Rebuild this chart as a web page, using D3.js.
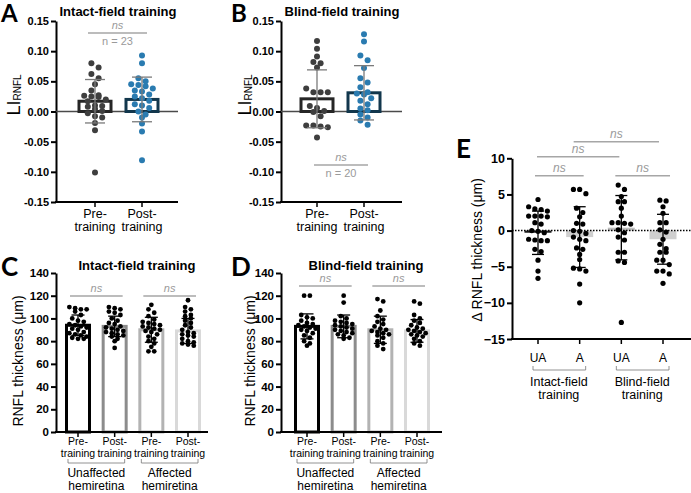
<!DOCTYPE html>
<html>
<head>
<meta charset="utf-8">
<script src="https://cdn.jsdelivr.net/npm/d3@7"></script>
<style>
  body { margin: 0; background: #fff; }
  svg { font-family: "Liberation Sans", Arial, sans-serif; }
</style>
</head>
<body>
<svg id="fig" width="691" height="493"></svg>
<script>
// ---------- data ----------
// A / B : laterality index LI_RNFL
const liGroups = ["Pre-training", "Post-training"];
const liTicks = [-0.15, -0.10, -0.05, 0, 0.05, 0.10, 0.15];
const intactLIPre  = [0.080, 0.073, 0.062, 0.055, 0.045, 0.035, 0.027, 0.026, 0.025, 0.024, 0.020, 0.017,
                      0.010, 0.009, 0.008, 0.004, 0.001, -0.003, -0.008, -0.010, -0.019, -0.031, -0.101];
const intactLIPost = [0.093, 0.080, 0.055, 0.050, 0.045, 0.044, 0.042, 0.038, 0.035, 0.033, 0.028, 0.025,
                      0.022, 0.018, 0.012, 0.010, 0.006, 0.000, -0.005, -0.010, -0.020, -0.033, -0.081];
const intactLIMean = [0.017, 0.020];
const intactLISD   = [0.036, 0.037];
const blindLIPre   = [0.117, 0.104, 0.091, 0.082, 0.080, 0.073, 0.038, 0.032, 0.032, 0.032, 0.009, 0.006,
                      0.001, -0.001, -0.008, -0.023, -0.023, -0.025, -0.026, -0.043];
const blindLIPost  = [0.128, 0.116, 0.093, 0.085, 0.072, 0.055, 0.048, 0.040, 0.032, 0.030, 0.028, 0.022,
                      0.018, 0.012, 0.005, 0.002, -0.005, -0.010, -0.015, -0.022];
const blindLIMean  = [0.021, 0.031];
const blindLISD    = [0.048, 0.045];

// C / D : RNFL thickness (µm)
const thickTicks = [0, 20, 40, 60, 80, 100, 120, 140];
const thickCatTop = ["Pre-", "Post-", "Pre-", "Post-"];
const thickCatBottom = ["training", "training", "training", "training"];
const hemiGroups = [["Unaffected", "hemiretina"], ["Affected", "hemiretina"]];
const intactThick = [
  [110, 109, 108, 108, 106, 103, 100, 98, 97, 95, 94, 93, 92, 91, 90, 88, 87, 86, 85, 84, 83, 82, 82],
  [110, 109, 108, 106, 105, 103, 100, 98, 96, 95, 93, 92, 91, 90, 89, 88, 87, 86, 85, 84, 82, 80, 74],
  [112, 108, 105, 102, 99, 97, 96, 95, 94, 93, 92, 91, 90, 89, 88, 86, 84, 82, 80, 78, 75, 71, 71],
  [116, 110, 108, 106, 103, 102, 100, 98, 96, 94, 92, 90, 88, 87, 86, 85, 84, 82, 80, 79, 78, 77, 76]
];
const intactThickMean = [94, 93, 90, 89];
const intactThickSD   = [9, 9, 11, 11];
const blindThick = [
  [120, 120, 103, 101, 100, 98, 96, 95, 94, 93, 92, 91, 90, 89, 87, 85, 83, 80, 78, 76],
  [120, 114, 102, 100, 98, 97, 96, 95, 94, 93, 92, 91, 90, 89, 88, 87, 86, 85, 83, 82],
  [117, 115, 107, 102, 99, 97, 95, 93, 91, 90, 89, 88, 87, 86, 85, 83, 80, 78, 76, 73],
  [115, 113, 103, 100, 98, 96, 94, 92, 91, 90, 89, 88, 87, 86, 85, 84, 82, 80, 78, 76]
];
const blindThickMean = [93, 93, 90, 89];
const blindThickSD   = [11, 10, 12, 10];

// E : change in RNFL thickness (µm)
const deltaTicks = [-15, -10, -5, 0, 5, 10];
const deltaCats = ["UA", "A", "UA", "A"];
const trainGroups = [["Intact-field", "training"], ["Blind-field", "training"]];
const deltaVals = [
  [4.3, 3.3, 3.0, 2.9, 2.7, 2.0, 2.0, 2.0, 1.9, 1.1, 0.9, 0.0, -0.1, -0.3, -1.2, -1.3, -1.4, -1.4, -2.6, -2.9, -4.1, -5.6, -6.6],
  [5.7, 5.7, 5.1, 3.1, 2.5, 1.9, 1.0, 0.9, 0.0, -0.1, -0.4, -0.9, -1.2, -1.4, -2.4, -2.6, -3.3, -4.0, -5.2, -5.3, -5.6, -7.4, -10.0],
  [6.3, 5.7, 4.7, 4.0, 4.0, 3.1, 2.0, 1.1, 1.1, 1.0, 0.1, -0.9, -1.3, -3.0, -3.0, -4.2, -4.4, -12.7, 0.9, -0.3],
  [4.2, 4.1, 3.3, 2.4, 1.1, 1.1, 0.1, -0.2, -1.2, -1.9, -2.5, -3.0, -3.0, -4.1, -4.1, -4.7, -5.6, -5.6, -6.0, -7.3]
];
const deltaMean = [-0.3, -0.9, 0.4, -1.2];
const deltaSD   = [3.0, 4.2, 4.45, 3.45];

// ---------- helpers ----------
const svg = d3.select("#fig");
const LETTER_FONT = "Lato, 'Liberation Sans', sans-serif";

// GraphPad-like scatter: points that fall on the same row are spread sideways
function swarm(vals, y, cx, r) {
  const pts = vals.map(v => ({v: v, py: y(v)})).sort((a, b) => a.py - b.py);
  const rows = [];
  pts.forEach(p => {
    const last = rows[rows.length - 1];
    if (last && p.py - last[0].py < r * 1.7) last.push(p); else rows.push([p]);
  });
  rows.forEach(row => row.forEach((p, i) => { p.px = cx + (i - (row.length - 1) / 2) * r * 2.4; }));
  return pts;
}

function leftAxis(y, x0, ticks, fmt, size) {
  const g = svg.append("g").attr("transform", `translate(${x0},0)`)
    .call(d3.axisLeft(y).tickValues(ticks).tickFormat(fmt).tickSize(5).tickSizeOuter(0));
  g.select(".domain").attr("stroke", "#000").attr("stroke-width", 2);
  g.selectAll(".tick line").attr("stroke", "#000").attr("stroke-width", 2);
  g.selectAll(".tick text").attr("font-size", size).attr("font-weight", "bold")
    .attr("font-family", "'Liberation Sans', Arial, sans-serif").attr("fill", "#000").attr("x", -7);
  return g;
}

function bottomLine(yPix, x0, x1, centers) {
  svg.append("line").attr("x1", x0 - 1).attr("x2", x1).attr("y1", yPix).attr("y2", yPix)
    .attr("stroke", "#000").attr("stroke-width", 2);
  centers.forEach(c => svg.append("line").attr("x1", c).attr("x2", c).attr("y1", yPix).attr("y2", yPix + 5)
    .attr("stroke", "#000").attr("stroke-width", 1.5));
}

function errBar(cx, y, m, sd, cap, color) {
  const g = svg.append("g").attr("stroke", color).attr("stroke-width", 1.3);
  g.append("line").attr("x1", cx).attr("x2", cx).attr("y1", y(m - sd)).attr("y2", y(m + sd));
  [m - sd, m + sd].forEach(v => g.append("line").attr("x1", cx - cap / 2).attr("x2", cx + cap / 2)
    .attr("y1", y(v)).attr("y2", y(v)));
}

function label(x, y, txt, opt) {
  opt = opt || {};
  return svg.append("text").attr("x", x).attr("y", y).text(txt)
    .attr("text-anchor", opt.anchor || "middle")
    .attr("font-size", opt.size || 12)
    .attr("font-weight", opt.weight || "normal")
    .attr("font-style", opt.style || "normal")
    .attr("font-family", opt.family || "'Liberation Sans', Arial, sans-serif")
    .attr("fill", opt.fill || "#000");
}

function nsBracket(x1, x2, yPix, size) {
  svg.append("line").attr("x1", x1).attr("x2", x2).attr("y1", yPix).attr("y2", yPix)
    .attr("stroke", "#a6a6a6").attr("stroke-width", 1.5);
  label((x1 + x2) / 2, yPix - 4, "ns", {size: size || 12, style: "italic", fill: "#9a9a9a"});
}

function groupBracket(x1, x2, yPix) {
  svg.append("path").attr("d", `M${x1},${yPix - 4}V${yPix}H${x2}V${yPix - 4}`)
    .attr("fill", "none").attr("stroke", "#777").attr("stroke-width", 0.8);
}

function rotLabel(x, y, txt, size) {
  return svg.append("text").attr("transform", `translate(${x},${y}) rotate(-90)`)
    .attr("text-anchor", "middle").attr("dy", "0.35em").attr("font-size", size)
    .attr("font-family", "'Liberation Sans', Arial, sans-serif").text(txt);
}

// ---------- panels A, B ----------
function liPanel(o) {
  const y = d3.scaleLinear().domain([-0.15, 0.15]).range([202, 21]);
  const x = d3.scalePoint().domain(liGroups).range(o.xr);
  label(o.letterX, 22, o.letter, {size: 24, weight: "bold", anchor: "start", family: LETTER_FONT});
  label(o.titleX, 16, o.title, {size: 13, weight: "bold"});
  // ylabel LI_RNFL
  const t = svg.append("text").attr("transform", `translate(${o.ylabX},95) rotate(-90)`)
    .attr("text-anchor", "middle").attr("font-family", "'Liberation Sans', Arial, sans-serif");
  t.append("tspan").attr("font-size", 18).text("LI");
  t.append("tspan").attr("font-size", 10).attr("dy", 1).text("RNFL");

  leftAxis(y, o.x0, liTicks, d => d.toFixed(2), 11);
  bottomLine(202, o.x0, o.x1, x.domain().map(x));
  svg.append("line").attr("x1", o.x0).attr("x2", o.x1).attr("y1", y(0)).attr("y2", y(0))
    .attr("stroke", "#4a4a4a").attr("stroke-width", 1.5);

  const sets = [o.pre, o.post], dotCol = ["#3e3e3e", "#2a7bb0"], barCol = ["#262626", "#12374d"];
  liGroups.forEach((gname, i) => {
    const cx = x(gname), m = o.mean[i];
    svg.append("rect").attr("x", cx - 16).attr("width", 32)
      .attr("y", y(Math.max(m, 0))).attr("height", Math.abs(y(m) - y(0)))
      .attr("fill", "none").attr("stroke", barCol[i]).attr("stroke-width", 3);
    svg.append("g").selectAll("circle").data(swarm(sets[i], y, cx, 3)).join("circle")
      .attr("cx", d => d.px).attr("cy", d => d.py).attr("r", 3).attr("fill", dotCol[i]);
    errBar(cx, y, m, o.sd[i], 20, "#7a7a7a");
  });
  // category labels
  liGroups.forEach(gname => {
    label(x(gname), 218, gname.split("-")[0] + "-", {size: 12.5});
    label(x(gname), 231, "training", {size: 12.5});
  });
  nsBracket(o.ns[0], o.ns[1], o.nsY, 11);
  label((o.ns[0] + o.ns[1]) / 2, o.nsY + 12, o.nText, {size: 11, fill: "#9a9a9a"});
}

liPanel({letter: "A", letterX: 1, title: "Intact-field training", titleX: 118, ylabX: 20,
  x0: 56, x1: 178, xr: [95, 142], pre: intactLIPre, post: intactLIPost,
  mean: intactLIMean, sd: intactLISD, ns: [88, 147], nsY: 33, nText: "n = 23"});
liPanel({letter: "B", letterX: 231, title: "Blind-field training", titleX: 342, ylabX: 251,
  x0: 281, x1: 402, xr: [317, 364], pre: blindLIPre, post: blindLIPost,
  mean: blindLIMean, sd: blindLISD, ns: [314, 368], nsY: 165, nText: "n = 20"});

// ---------- panels C, D ----------
function thickPanel(o) {
  const y = d3.scaleLinear().domain([0, 140]).range([432, 273]);
  const x = d3.scalePoint().domain(d3.range(4)).range(o.xr);
  label(o.letterX, 276, o.letter, {size: 26, weight: "bold", anchor: "start", family: LETTER_FONT});
  label(o.titleX, 270, o.title, {size: 13, weight: "bold"});
  rotLabel(o.ylabX, 361, "RNFL thickness (\u03bcm)", 14);
  leftAxis(y, o.x0, thickTicks, d3.format("d"), 11.5);

  const barCol = ["#000", "#8c8c8c", "#b3b3b3", "#d9d9d9"];
  o.vals.forEach((vals, i) => {
    const cx = x(i), m = o.mean[i];
    svg.append("rect").attr("x", cx - 11.5).attr("width", 23).attr("y", y(m)).attr("height", y(0) - y(m))
      .attr("fill", "#fff").attr("stroke", barCol[i]).attr("stroke-width", 3);
  });
  bottomLine(432, o.x0, o.x1, x.domain().map(x));
  o.vals.forEach((vals, i) => {
    const cx = x(i);
    svg.append("g").selectAll("circle").data(swarm(vals, y, cx, 2.4)).join("circle")
      .attr("cx", d => d.px).attr("cy", d => d.py).attr("r", 2.4).attr("fill", "#000");
    errBar(cx, y, o.mean[i], o.sd[i], 13, "#000");
    label(cx, 445, thickCatTop[i], {size: 10.5});
    label(cx, 457, thickCatBottom[i], {size: 10.5});
  });
  hemiGroups.forEach((grp, j) => {
    const a = x(2 * j), b = x(2 * j + 1);
    groupBracket(a - 10, b + 10, 463);
    label((a + b) / 2, 477, grp[0], {size: 12});
    label((a + b) / 2, 490, grp[1], {size: 12});
    nsBracket(a - 8, b + 8, o.nsY, 11);
  });
}

thickPanel({letter: "C", letterX: 1, title: "Intact-field training", titleX: 137, ylabX: 18,
  x0: 56, x1: 208, xr: [78, 188], vals: intactThick, mean: intactThickMean, sd: intactThickSD, nsY: 296});
thickPanel({letter: "D", letterX: 231, title: "Blind-field training", titleX: 366, ylabX: 250,
  x0: 281, x1: 442, xr: [307, 417], vals: blindThick, mean: blindThickMean, sd: blindThickSD, nsY: 286});

// ---------- panel E ----------
(function () {
  const y = d3.scaleLinear().domain([-15, 10]).range([339, 158.3]);
  const x = d3.scalePoint().domain(d3.range(4)).range([538, 663]);
  const x0 = 512, x1 = 691;
  label(456, 158, "E", {size: 26, weight: "bold", anchor: "start", family: LETTER_FONT});
  rotLabel(477, 250, "\u0394 RNFL thickness (\u03bcm)", 14);
  leftAxis(y, x0, deltaTicks, d3.format("d"), 12.5);
  bottomLine(339, x0, x1, x.domain().map(x));

  const barFill = ["#1e1e1e", "#cfcfcf", "#bdbdbd", "#cfcfcf"];
  deltaVals.forEach((vals, i) => {
    const cx = x(i), m = deltaMean[i];
    svg.append("rect").attr("x", cx - 13.5).attr("width", 27)
      .attr("y", y(Math.max(m, 0))).attr("height", Math.abs(y(m) - y(0))).attr("fill", barFill[i]);
  });
  svg.append("line").attr("x1", x0).attr("x2", x1).attr("y1", y(0)).attr("y2", y(0))
    .attr("stroke", "#000").attr("stroke-width", 1.5).attr("stroke-dasharray", "1.5,1.5");
  deltaVals.forEach((vals, i) => {
    const cx = x(i);
    svg.append("g").selectAll("circle").data(swarm(vals, y, cx, 2.6)).join("circle")
      .attr("cx", d => d.px).attr("cy", d => d.py).attr("r", 2.6).attr("fill", "#000");
    errBar(cx, y, deltaMean[i], deltaSD[i], 12, "#000");
    label(cx, 362, deltaCats[i], {size: 12});
  });
  trainGroups.forEach((grp, j) => {
    const a = x(2 * j), b = x(2 * j + 1);
    groupBracket(a - 5, b + 6, 370);
    label((a + b) / 2, 386, grp[0], {size: 12.5});
    label((a + b) / 2, 399, grp[1], {size: 12.5});
  });
  nsBracket(x(0) - 3, x(1) + 4, 175.7);
  nsBracket(x(2) - 6, x(3) + 7, 175.7);
  nsBracket(x(0) - 1, x(2) - 2, 156.7);
  nsBracket(x(1) - 6, x(3) - 4, 141.7);
})();
</script>
</body>
</html>
